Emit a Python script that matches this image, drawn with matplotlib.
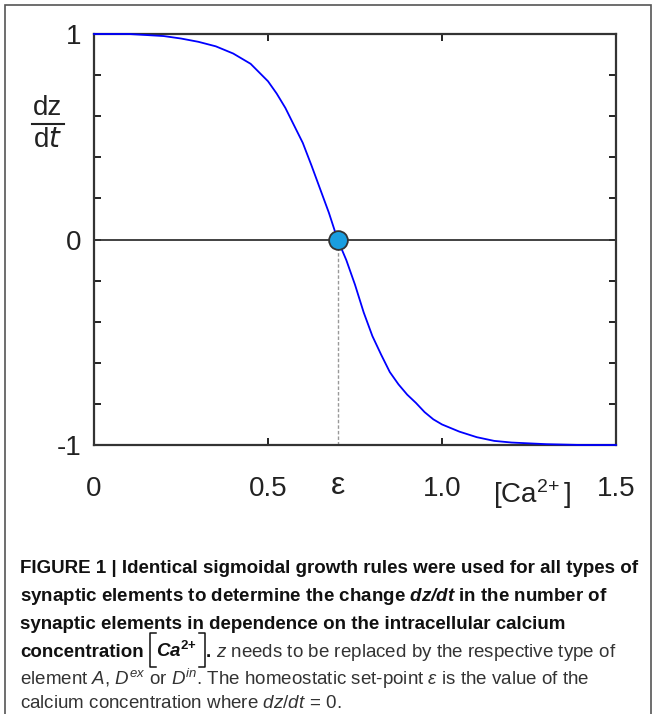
import numpy as np
import matplotlib
matplotlib.use('Agg')
import matplotlib.pyplot as plt
from matplotlib import font_manager
from matplotlib.patches import Rectangle
from matplotlib.lines import Line2D

W, H = 656, 714

# curve: [Ca2+] vs dz/dt
ca_conc = [0, 0.05, 0.1, 0.15, 0.2, 0.25, 0.3, 0.35, 0.4, 0.45, 0.5, 0.525,
           0.55, 0.575, 0.6, 0.625, 0.65, 0.675, 0.7, 0.725, 0.75, 0.775, 0.8,
           0.825, 0.85, 0.875, 0.9, 0.925, 0.95, 0.975, 1.0, 1.05, 1.1, 1.15,
           1.2, 1.25, 1.3, 1.4, 1.5]
dz_dt = [1.0, 1.0, 1.0, 0.995, 0.99, 0.978, 0.962, 0.94, 0.905, 0.855, 0.77,
         0.71, 0.64, 0.555, 0.47, 0.36, 0.245, 0.13, 0.0, -0.1, -0.22, -0.355,
         -0.47, -0.56, -0.645, -0.705, -0.755, -0.795, -0.84, -0.875, -0.9,
         -0.935, -0.962, -0.98, -0.988, -0.992, -0.996, -1.0, -1.0]
epsilon = 0.7

x_ticks = [0, 0.5, 1.0, 1.5]
x_tick_labels = ['0', '0.5', '1.0', '1.5']
y_ticks = [-1, -0.8, -0.6, -0.4, -0.2, 0, 0.2, 0.4, 0.6, 0.8, 1]
y_tick_labels = ['-1', '', '', '', '', '0', '', '', '', '', '1']

caption_bold = [
    'FIGURE 1 | Identical sigmoidal growth rules were used for all types of',
    r'synaptic elements to determine the change $\mathbfit{dz/dt}$ in the number of',
    'synaptic elements in dependence on the intracellular calcium',
]
caption_regular = [
    r'element $\mathit{A}$, $\mathit{D}^{\mathit{ex}}$ or $\mathit{D}^{\mathit{in}}$. '
    r'The homeostatic set-point $\epsilon$ is the value of the',
    r'calcium concentration where $dz/dt\,=\,0$.',
]

names = {f.name for f in font_manager.fontManager.ttflist}
cap_font = 'Liberation Sans Narrow' if 'Liberation Sans Narrow' in names else 'Liberation Sans'

plt.rcParams['font.family'] = ['Liberation Sans', 'DejaVu Sans']
plt.rcParams['mathtext.fontset'] = 'custom'
plt.rcParams['mathtext.rm'] = cap_font
plt.rcParams['mathtext.it'] = cap_font + ':italic'
plt.rcParams['mathtext.bf'] = cap_font + ':bold'
plt.rcParams['mathtext.bfit'] = cap_font + ':italic:bold'

fig = plt.figure(figsize=(W / 100, H / 100), dpi=100)

# outer frame
fig.patches.append(Rectangle((5 / W, -0.02), 646 / W, 1.02 - 5 / H,
                             transform=fig.transFigure, fill=False,
                             edgecolor='#555555', linewidth=1.2))

ax = fig.add_axes([94 / W, 1 - 445 / H, (616 - 94) / W, (445 - 34) / H])
ax.plot(ca_conc, dz_dt, color='#0000ff', lw=1.3, zorder=5, clip_on=False)
ax.axhline(0, color='#333333', lw=1.3, zorder=3)
ax.plot([epsilon, epsilon], [-1, 0], color='#999999', lw=1.0, ls=(0, (2.5, 1.5)), zorder=2)
ax.plot([epsilon], [0], 'o', ms=13.5, mfc='#1a9ee0', mec='#333333', mew=1.3,
        zorder=6, clip_on=False)

ax.set_xlim(0, 1.5)
ax.set_ylim(-1, 1)
ax.set_xticks(x_ticks, x_tick_labels)
ax.set_yticks(y_ticks, y_tick_labels)
for s in ax.spines.values():
    s.set_color('#333333')
    s.set_linewidth(1.6)
ax.tick_params(direction='in', length=5, width=1.4, color='#222222',
               top=True, right=True, labelsize=20, labelcolor='#222222')
ax.tick_params(axis='x', pad=22)
ax.tick_params(axis='y', pad=9)

# extra x-axis labels: epsilon and [Ca2+]
xt = ax.get_xaxis_transform()
ax.text(epsilon, -0.1, 'ε', transform=xt, ha='center', va='center',
        fontsize=23, color='#222222')
ax.text(1.258, -0.12, r'[Ca$^{2\!+}$]', transform=xt, ha='center',
        va='center', fontsize=20, color='#222222')

# y label as a fraction
fig.text(48 / W, 1 - 108 / H, 'dz', ha='center', va='center', fontsize=20, color='#222222')
fig.text(48 / W, 1 - 140 / H, r'd$\mathit{t}$', ha='center', va='center', fontsize=20,
         color='#222222', math_fontfamily='dejavusans')
fig.add_artist(Line2D([32 / W, 64 / W], [1 - 124 / H, 1 - 124 / H],
                      transform=fig.transFigure, color='#222222', lw=1.5))

# caption
cap_size = 13.5
x0 = 20
baselines = [573, 601, 629, 657, 685, 708]
for i, line in enumerate(caption_bold):
    fig.text(x0 / W, 1 - baselines[i] / H, line, fontsize=cap_size, fontweight='bold',
             family=cap_font, va='baseline', color='#111111')

renderer = fig.canvas.get_renderer()


def put(x, text, **kw):
    t = fig.text(x / W, 1 - baselines[3] / H, text, va='baseline',
                 family=cap_font, **kw)
    return x + t.get_window_extent(renderer).width


def bracket(x, side):
    top, bot, w = baselines[3] - 24, baselines[3] + 10, 6 * side
    xs = [x + w, x, x, x + w]
    ys = [top, top, bot, bot]
    fig.add_artist(Line2D([v / W for v in xs], [1 - v / H for v in ys],
                          transform=fig.transFigure, color='#111111', lw=1.1))


x = put(x0, 'concentration', fontsize=cap_size, fontweight='bold', color='#111111')
bracket(x + 6, 1)
x = put(x + 12, r'Ca$^{\mathbf{2\!+}}$', fontsize=cap_size, fontweight='bold',
        style='italic', color='#111111')
bracket(x + 8, -1)
x = put(x + 9, '.', fontsize=cap_size, fontweight='bold', color='#111111')
put(x + 5, r'$\mathit{z}$ needs to be replaced by the respective type of',
    fontsize=cap_size, color='#333333')

for i, line in enumerate(caption_regular):
    fig.text(x0 / W, 1 - baselines[4 + i] / H, line, fontsize=cap_size,
             family=cap_font, va='baseline', color='#333333')

fig.savefig('out.png', dpi=100)
